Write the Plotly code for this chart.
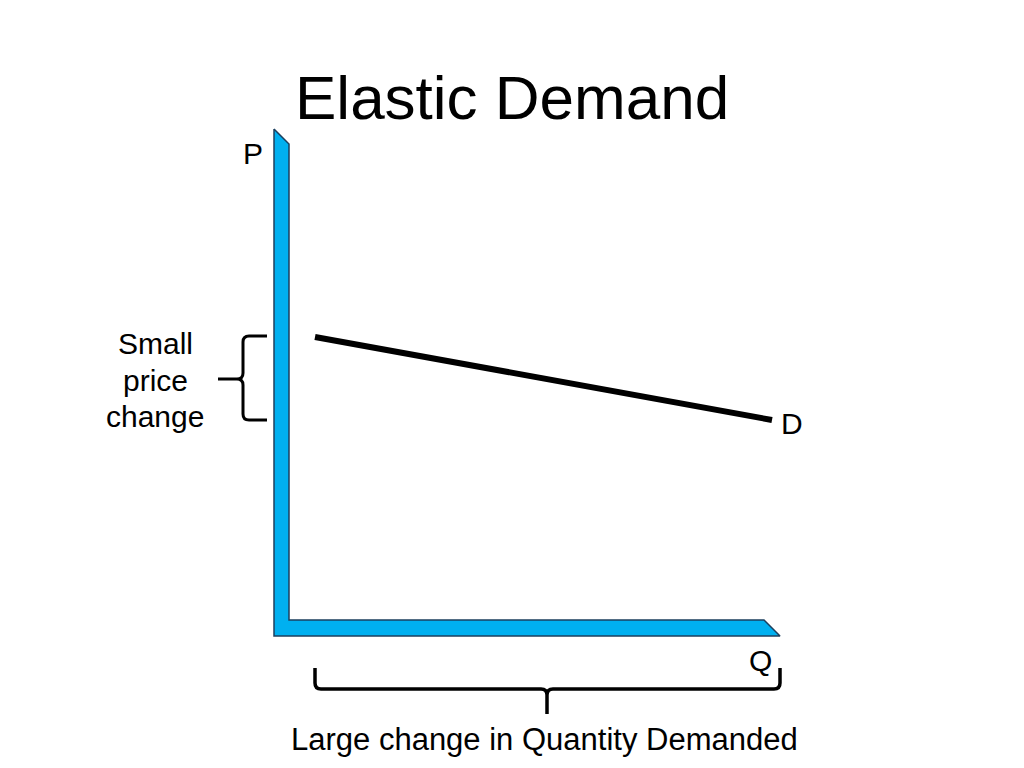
import plotly.graph_objects as go

# ---- data (diagram coordinates: x to the right, y downward, in a 1024x768 canvas space)
demand_q = [315, 772]
demand_p = [337, 420]

axis_x = [274, 289, 289, 764, 780, 274, 274]
axis_y = [129, 144, 620, 620, 636, 636, 129]

title_text = "Elastic Demand"
p_label = "P"
q_label = "Q"
d_label = "D"
price_lines = ["Small", "price", "change"]
qty_text = "Large change in Quantity Demanded"

# brace geometry (left: price range; bottom: quantity range)
price_brace = dict(top=336, bottom=420, mid=379, x=243, right=267, tip=218)
qty_brace = dict(left=315, right=780, top=668, y=689, mid=547, tip=714)

FONT = "Liberation Sans, Arial, sans-serif"
PAGE_OFFSET = 8  # default body margin of the html page

fig = go.Figure()

fig.add_trace(go.Scatter(
    x=axis_x, y=axis_y, mode="lines", fill="toself",
    fillcolor="#00B0F0", line=dict(color="#1c3f5e", width=1.5),
    hoverinfo="skip", showlegend=False))

fig.add_trace(go.Scatter(
    x=demand_q, y=demand_p, mode="lines",
    line=dict(color="black", width=6), hoverinfo="skip", showlegend=False))

b = price_brace
r = 6
left_path = (
    f"M {b['right']} {b['top']} L {b['x']+r} {b['top']} "
    f"Q {b['x']} {b['top']} {b['x']} {b['top']+r} "
    f"L {b['x']} {b['mid']-r} Q {b['x']} {b['mid']} {b['x']-r} {b['mid']} "
    f"L {b['tip']} {b['mid']} "
    f"M {b['x']-r} {b['mid']} Q {b['x']} {b['mid']} {b['x']} {b['mid']+r} "
    f"L {b['x']} {b['bottom']-r} Q {b['x']} {b['bottom']} {b['x']+r} {b['bottom']} "
    f"L {b['right']} {b['bottom']}"
)
q = qty_brace
bottom_path = (
    f"M {q['left']} {q['top']} L {q['left']} {q['y']-r} "
    f"Q {q['left']} {q['y']} {q['left']+r} {q['y']} "
    f"L {q['mid']-r} {q['y']} Q {q['mid']} {q['y']} {q['mid']} {q['y']+r} "
    f"L {q['mid']} {q['tip']} "
    f"M {q['mid']} {q['y']+r} Q {q['mid']} {q['y']} {q['mid']+r} {q['y']} "
    f"L {q['right']-r} {q['y']} Q {q['right']} {q['y']} {q['right']} {q['y']-r} "
    f"L {q['right']} {q['top']}"
)
fig.add_shape(type="path", path=left_path, xref="x", yref="y",
              line=dict(color="black", width=3))
fig.add_shape(type="path", path=bottom_path, xref="x", yref="y",
              line=dict(color="black", width=3.5))

def label(text, x, y, size):
    fig.add_annotation(text=text, x=x, y=y, xref="x", yref="y",
                       showarrow=False, xanchor="center", yanchor="middle",
                       font=dict(family=FONT, size=size, color="black"))

label(title_text, 512, 97, 62)
label(p_label, 253, 153, 30)
label(q_label, 760, 660, 30)
label(d_label, 792, 423, 30)
for txt, yy in zip(price_lines, [343, 380, 416]):
    label(txt, 155, yy, 30)
label(qty_text, 544, 739, 31)

fig.update_layout(
    width=1024, height=768,
    margin=dict(l=0, r=0, t=0, b=0),
    paper_bgcolor="white", plot_bgcolor="white",
    xaxis=dict(range=[PAGE_OFFSET, 1024 + PAGE_OFFSET], visible=False, fixedrange=True),
    yaxis=dict(range=[768 + PAGE_OFFSET, PAGE_OFFSET], visible=False, fixedrange=True),
    showlegend=False,
)

fig.write_html("out.html")
